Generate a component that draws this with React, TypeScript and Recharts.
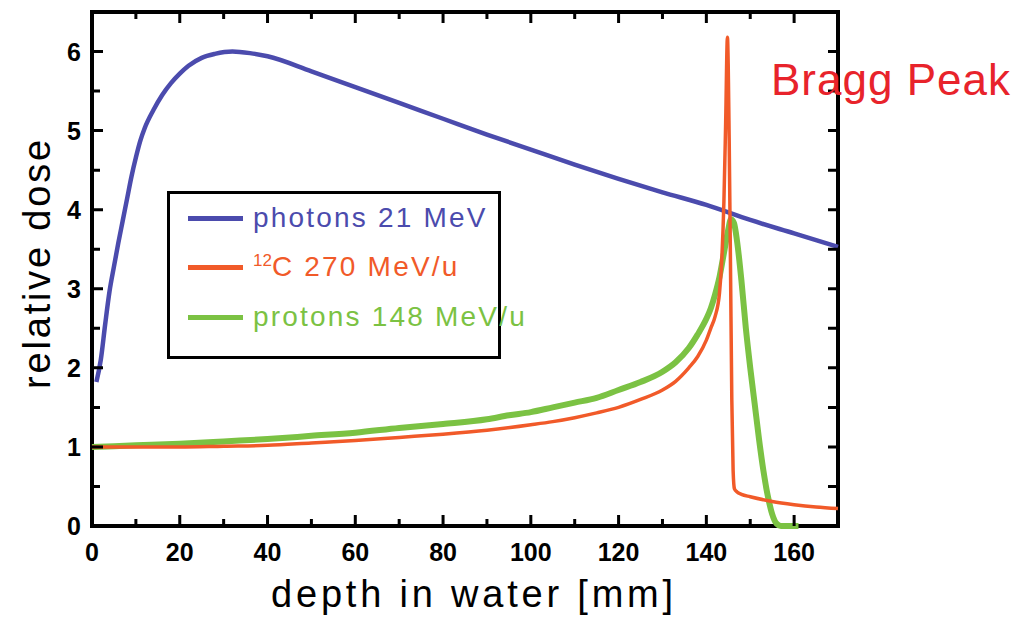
import React from "react";
import { LineChart, Line, XAxis, YAxis, ReferenceArea, Label } from "recharts";

// depth [mm] / relative dose
const photons = [
  { x: 1, y: 1.82 }, { x: 2, y: 2.1 }, { x: 3, y: 2.55 }, { x: 4, y: 2.97 },
  { x: 5, y: 3.28 }, { x: 6, y: 3.58 }, { x: 7, y: 3.86 }, { x: 8, y: 4.14 },
  { x: 9, y: 4.42 }, { x: 10, y: 4.66 }, { x: 11, y: 4.87 }, { x: 12, y: 5.03 },
  { x: 14, y: 5.26 }, { x: 16, y: 5.45 }, { x: 18, y: 5.6 }, { x: 20, y: 5.72 },
  { x: 22, y: 5.82 }, { x: 25, y: 5.92 }, { x: 28, y: 5.97 }, { x: 32, y: 6.0 },
  { x: 36, y: 5.98 }, { x: 40, y: 5.94 }, { x: 50, y: 5.75 }, { x: 60, y: 5.55 },
  { x: 70, y: 5.35 }, { x: 80, y: 5.15 }, { x: 90, y: 4.95 }, { x: 100, y: 4.76 },
  { x: 110, y: 4.57 }, { x: 120, y: 4.39 }, { x: 130, y: 4.22 }, { x: 140, y: 4.06 },
  { x: 150, y: 3.87 }, { x: 160, y: 3.7 }, { x: 170, y: 3.53 },
];

const carbon = [
  { x: 0, y: 1.0 }, { x: 10, y: 1.0 }, { x: 20, y: 1.0 }, { x: 30, y: 1.01 },
  { x: 40, y: 1.02 }, { x: 50, y: 1.05 }, { x: 60, y: 1.08 }, { x: 70, y: 1.12 },
  { x: 80, y: 1.16 }, { x: 90, y: 1.21 }, { x: 100, y: 1.28 }, { x: 105, y: 1.32 },
  { x: 110, y: 1.37 }, { x: 115, y: 1.43 }, { x: 120, y: 1.5 }, { x: 125, y: 1.6 },
  { x: 130, y: 1.72 }, { x: 133, y: 1.83 }, { x: 136, y: 2.0 }, { x: 138, y: 2.14 },
  { x: 140, y: 2.35 }, { x: 141, y: 2.5 }, { x: 142, y: 2.65 }, { x: 143, y: 2.95 },
  { x: 143.5, y: 3.35 }, { x: 144, y: 4.1 }, { x: 144.4, y: 5.1 }, { x: 144.8, y: 6.18 },
  { x: 145.2, y: 4.9 }, { x: 145.5, y: 3.3 }, { x: 145.8, y: 1.6 }, { x: 146.1, y: 0.7 },
  { x: 146.4, y: 0.47 }, { x: 147, y: 0.43 }, { x: 148, y: 0.4 }, { x: 150, y: 0.37 },
  { x: 155, y: 0.31 }, { x: 160, y: 0.27 }, { x: 165, y: 0.24 }, { x: 170, y: 0.22 },
];

const protons = [
  { x: 0, y: 1.0 }, { x: 10, y: 1.02 }, { x: 20, y: 1.04 }, { x: 30, y: 1.07 },
  { x: 40, y: 1.1 }, { x: 50, y: 1.14 }, { x: 60, y: 1.18 }, { x: 70, y: 1.24 },
  { x: 80, y: 1.29 }, { x: 90, y: 1.35 }, { x: 95, y: 1.4 }, { x: 100, y: 1.44 },
  { x: 105, y: 1.5 }, { x: 110, y: 1.56 }, { x: 115, y: 1.62 }, { x: 120, y: 1.72 },
  { x: 125, y: 1.82 }, { x: 130, y: 1.95 }, { x: 133, y: 2.07 }, { x: 136, y: 2.25 },
  { x: 138, y: 2.42 }, { x: 140, y: 2.62 }, { x: 141, y: 2.75 }, { x: 142, y: 2.93 },
  { x: 143, y: 3.15 }, { x: 144, y: 3.45 }, { x: 145, y: 3.75 }, { x: 145.6, y: 3.88 },
  { x: 146.3, y: 3.83 }, { x: 147, y: 3.6 }, { x: 148, y: 3.1 }, { x: 149, y: 2.5 },
  { x: 150, y: 2.0 }, { x: 151, y: 1.55 }, { x: 152, y: 1.1 }, { x: 153, y: 0.7 },
  { x: 154, y: 0.38 }, { x: 155, y: 0.15 }, { x: 156, y: 0.03 }, { x: 157, y: 0 },
  { x: 161, y: 0 },
];

const xTicks = [0, 10, 20, 30, 40, 50, 60, 70, 80, 90, 100, 110, 120, 130, 140, 150, 160];
const yTicks = [0, 0.5, 1, 1.5, 2, 2.5, 3, 3.5, 4, 4.5, 5, 5.5, 6];

const BLUE = "#4b4bad";
const ORANGE = "#f15a29";
const GREEN = "#7bc243";

// plot box in page pixels
const LEFT = 92;
const RIGHT = 838;
const TOP = 12;
const BOTTOM = 526;

const font = "'Liberation Sans', Arial, sans-serif";

function XTick(props: any) {
  const x = props.x;
  const v = props.payload.value;
  const major = v % 20 === 0;
  const len = major ? 11 : 7;
  return (
    <g>
      <path d={`M${x},${BOTTOM} V${BOTTOM - len} M${x},${TOP} V${TOP + len}`} stroke="#000" strokeWidth={3} fill="none" />
      {major && (
        <text x={x} y={561} textAnchor="middle" fontFamily={font} fontWeight="bold" fontSize={25} fill="#000" stroke="none">
          {v}
        </text>
      )}
    </g>
  );
}

function YTick(props: any) {
  const y = props.y;
  const v = props.payload.value;
  const major = Number.isInteger(v);
  return (
    <g>
      <path d={`M${LEFT},${y} H${LEFT + (major ? 11 : 8)} M${RIGHT},${y} H${RIGHT - 10}`} stroke="#000" strokeWidth={3} fill="none" />
      {major && (
        <text x={81} y={y + 9} textAnchor="end" fontFamily={font} fontWeight="bold" fontSize={25} fill="#000" stroke="none">
          {v}
        </text>
      )}
    </g>
  );
}

function LegendRow({ color, top, children }: { color: string; top: number; children: React.ReactNode }) {
  return (
    <div style={{ position: "absolute", left: 0, top, display: "flex", alignItems: "center" }}>
      <div style={{ width: 55, height: 5, background: color, marginLeft: 18, marginRight: 10 }} />
      <span style={{ color, fontFamily: font, fontSize: 28, letterSpacing: 2.2, whiteSpace: "nowrap" }}>
        {children}
      </span>
    </div>
  );
}

export default function App() {
  return (
    <div style={{ position: "absolute", left: 0, top: 0, width: 1024, height: 620, background: "#fff" }}>
      <LineChart
        width={1024}
        height={620}
        margin={{ top: TOP, right: 1024 - RIGHT, bottom: 620 - BOTTOM - 40, left: LEFT - 60 }}
      >
        <XAxis
          dataKey="x"
          type="number"
          domain={[0, 170]}
          ticks={xTicks}
          interval={0}
          height={40}
          tickLine={false}
          axisLine={false}
          tick={<XTick />}
        >
          <Label
            content={() => (
              <text x={474} y={607} textAnchor="middle" fontFamily={font} fontSize={38} letterSpacing={3.8} fill="#000">
                depth in water [mm]
              </text>
            )}
          />
        </XAxis>
        <YAxis
          type="number"
          domain={[0, 6.5]}
          ticks={yTicks}
          interval={0}
          width={60}
          tickLine={false}
          axisLine={false}
          tick={<YTick />}
        >
          <Label
            content={() => (
              <text
                x={37}
                y={263}
                transform="rotate(-90 37 263)"
                textAnchor="middle"
                dominantBaseline="central"
                fontFamily={font}
                fontSize={38}
                letterSpacing={2.8}
                fill="#000"
              >
                relative dose
              </text>
            )}
          />
        </YAxis>
        <ReferenceArea x1={0} x2={170} y1={0} y2={6.5} fill="none" fillOpacity={0} stroke="#000" strokeWidth={4} strokeOpacity={1} />
        <Line data={photons} dataKey="y" type="monotone" stroke={BLUE} strokeWidth={4.5} dot={false} isAnimationActive={false} />
        <Line data={protons} dataKey="y" type="monotone" stroke={GREEN} strokeWidth={6} dot={false} isAnimationActive={false} />
        <Line data={carbon} dataKey="y" type="monotone" stroke={ORANGE} strokeWidth={3.5} dot={false} isAnimationActive={false} />
      </LineChart>

      <div
        style={{
          position: "absolute",
          left: 167,
          top: 191,
          width: 328,
          height: 162,
          border: "3px solid #000",
          background: "#fff",
        }}
      >
        <LegendRow color={BLUE} top={8}>photons 21 MeV</LegendRow>
        <LegendRow color={ORANGE} top={57}>
          <sup style={{ fontSize: 17, letterSpacing: 0, verticalAlign: 10 }}>12</sup>C 270 MeV/u
        </LegendRow>
        <LegendRow color={GREEN} top={107}>protons 148 MeV/u</LegendRow>
      </div>

      <div
        style={{
          position: "absolute",
          left: 771,
          top: 55,
          color: "#e8232b",
          fontFamily: font,
          fontSize: 44,
          letterSpacing: 1,
          whiteSpace: "nowrap",
        }}
      >
        Bragg Peak
      </div>
    </div>
  );
}
